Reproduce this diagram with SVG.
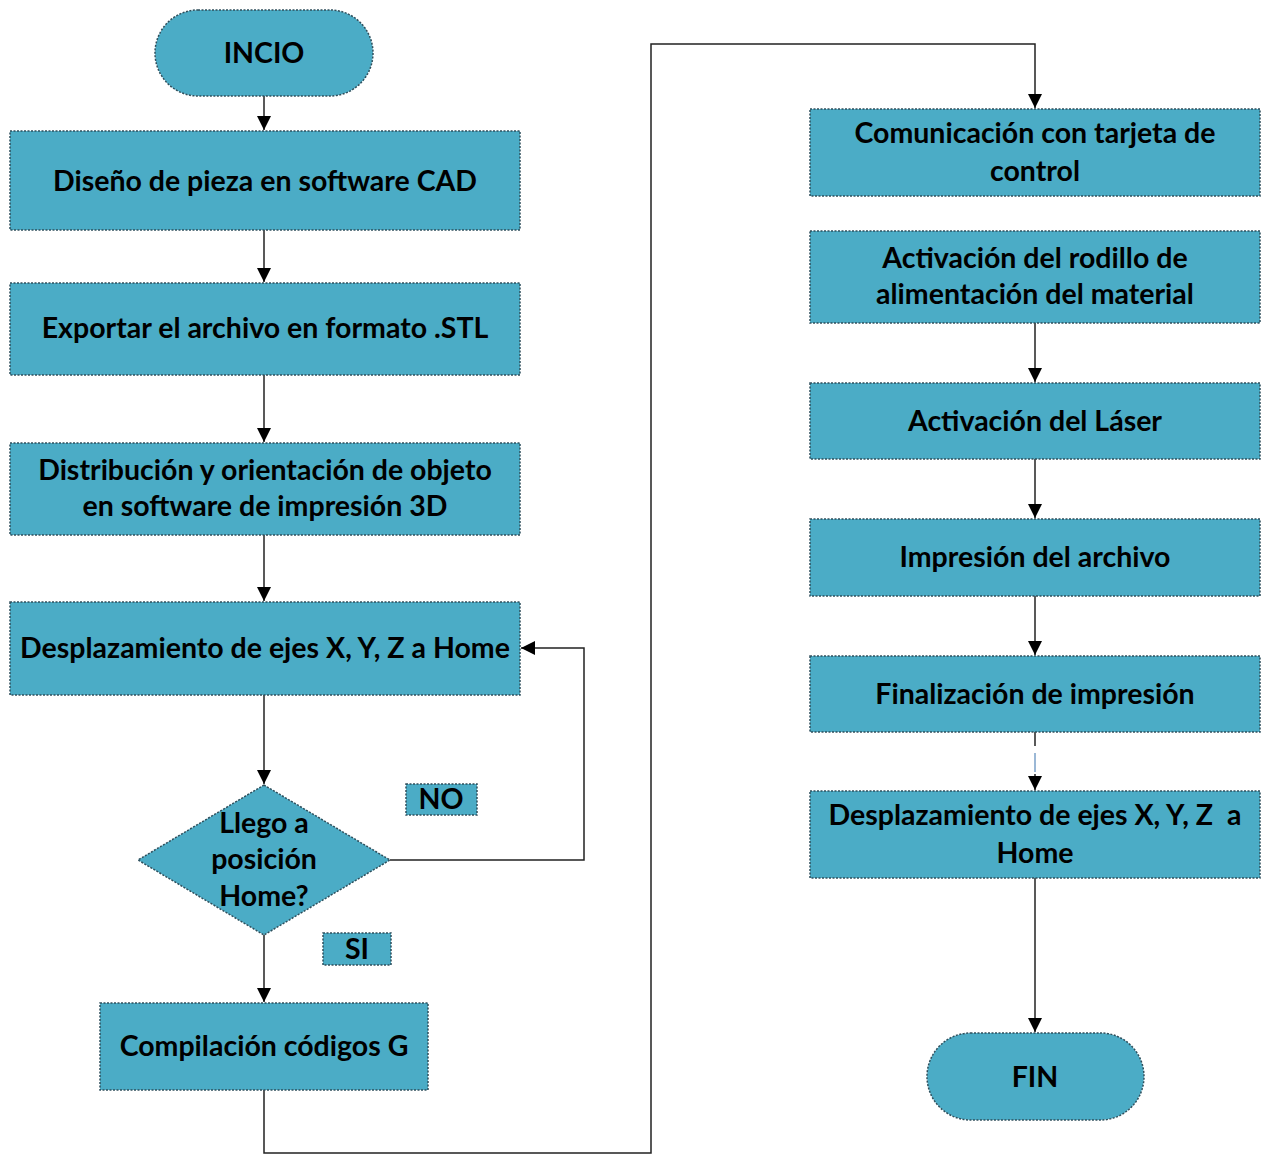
<svg xmlns="http://www.w3.org/2000/svg" width="1262" height="1155" viewBox="0 0 1262 1155">
<style>
.n{fill:#4BACC6;stroke:#2f4f5c;stroke-width:1.5;stroke-dasharray:2 1.5}
.t{font-family:Lato,"Liberation Sans",sans-serif;font-weight:bold;font-size:28.5px;fill:#000;text-anchor:middle}
.c{fill:none;stroke:#222;stroke-width:1.5}
</style>
<defs>
<marker id="ah" viewBox="0 0 10 10" refX="10" refY="5" markerWidth="15" markerHeight="14" markerUnits="userSpaceOnUse" orient="auto">
<path d="M0,0 L10,5 L0,10 z" fill="#000"/>
</marker>
</defs>
<rect width="1262" height="1155" fill="#fff"/>
<g id="connectors">
<path class="c" d="M264,96 V130" marker-end="url(#ah)"/>
<path class="c" d="M264,230 V282" marker-end="url(#ah)"/>
<path class="c" d="M264,375 V442" marker-end="url(#ah)"/>
<path class="c" d="M264,535 V601" marker-end="url(#ah)"/>
<path class="c" d="M264,695 V784" marker-end="url(#ah)"/>
<path class="c" d="M390,860 H584 V648 H521" marker-end="url(#ah)"/>
<path class="c" d="M264,935 V1002" marker-end="url(#ah)"/>
<path class="c" d="M264,1090 V1153 H651 V44 H1035 V108" marker-end="url(#ah)"/>
<path class="c" d="M1035,323 V382" marker-end="url(#ah)"/>
<path class="c" d="M1035,459 V518" marker-end="url(#ah)"/>
<path class="c" d="M1035,596 V655" marker-end="url(#ah)"/>
<path class="c" d="M1035,732 V746"/>
<path fill="none" stroke="#7aa0c8" stroke-width="1.5" d="M1035,753 V772"/>
<path class="c" d="M1035,774 V790" marker-end="url(#ah)"/>
<path class="c" d="M1035,878 V1032" marker-end="url(#ah)"/>
</g>
<g id="inicio">
<rect class="n" x="155" y="10" width="218" height="86" rx="43"/>
<text class="t" x="264" y="63">INCIO</text>
</g>
<g id="diseno">
<rect class="n" x="10" y="131" width="510" height="99"/>
<text class="t" x="265" y="191">Diseño de pieza en software CAD</text>
</g>
<g id="exportar">
<rect class="n" x="10" y="283" width="510" height="92"/>
<text class="t" x="265" y="338">Exportar el archivo en formato .STL</text>
</g>
<g id="distribucion">
<rect class="n" x="10" y="443" width="510" height="92"/>
<text class="t" x="265" y="480">Distribución y orientación de objeto</text>
<text class="t" x="265" y="516">en software de impresión 3D</text>
</g>
<g id="desplazamiento1">
<rect class="n" x="10" y="602" width="510" height="93"/>
<text class="t" x="265" y="658">Desplazamiento de ejes X, Y, Z a Home</text>
</g>
<g id="decision">
<polygon class="n" points="264,785 390,860 264,935 138,860"/>
<text class="t" x="264" y="833">Llego a</text>
<text class="t" x="264" y="869">posición</text>
<text class="t" x="264" y="906">Home?</text>
</g>
<g id="label-no">
<rect class="n" x="406" y="784" width="71" height="31"/>
<text class="t" x="441" y="809">NO</text>
</g>
<g id="label-si">
<rect class="n" x="323" y="933" width="68" height="32"/>
<text class="t" x="357" y="959">SI</text>
</g>
<g id="compilacion">
<rect class="n" x="100" y="1003" width="328" height="87"/>
<text class="t" x="264" y="1056">Compilación códigos G</text>
</g>
<g id="comunicacion">
<rect class="n" x="810" y="109" width="450" height="87"/>
<text class="t" x="1035" y="143">Comunicación con tarjeta de</text>
<text class="t" x="1035" y="181">control</text>
</g>
<g id="rodillo">
<rect class="n" x="810" y="231" width="450" height="92"/>
<text class="t" x="1035" y="268">Activación del rodillo de</text>
<text class="t" x="1035" y="304">alimentación del material</text>
</g>
<g id="laser">
<rect class="n" x="810" y="383" width="450" height="76"/>
<text class="t" x="1035" y="431">Activación del Láser</text>
</g>
<g id="impresion">
<rect class="n" x="810" y="519" width="450" height="77"/>
<text class="t" x="1035" y="567">Impresión del archivo</text>
</g>
<g id="finalizacion">
<rect class="n" x="810" y="656" width="450" height="76"/>
<text class="t" x="1035" y="704">Finalización de impresión</text>
</g>
<g id="desplazamiento2">
<rect class="n" x="810" y="791" width="450" height="87"/>
<text class="t" x="1035" y="825" xml:space="preserve">Desplazamiento de ejes X, Y, Z  a</text>
<text class="t" x="1035" y="863">Home</text>
</g>
<g id="fin">
<rect class="n" x="927" y="1033" width="217" height="87" rx="43.5"/>
<text class="t" x="1035" y="1087">FIN</text>
</g>
</svg>
